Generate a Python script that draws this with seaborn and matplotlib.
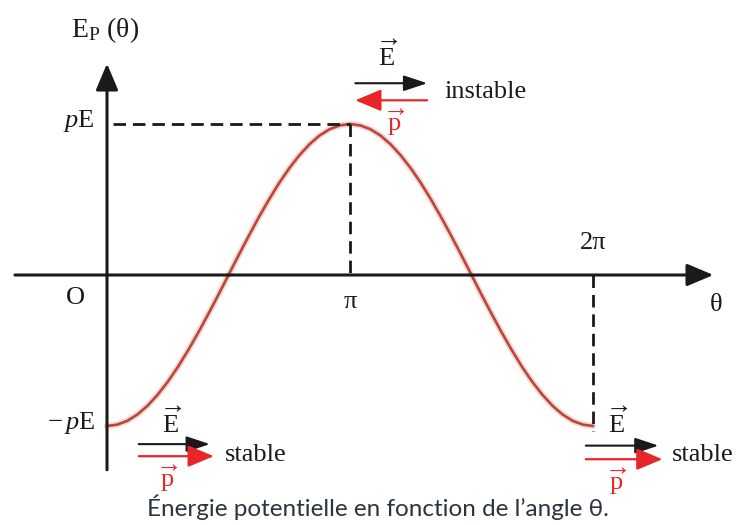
import numpy as np
import pandas as pd
import matplotlib
matplotlib.use("Agg")
import matplotlib.pyplot as plt
import seaborn as sns

# Potential energy of a dipole in a uniform field, in units of pE, sampled every 7.5°
theta_deg = [0, 7.5, 15, 22.5, 30, 37.5, 45, 52.5, 60, 67.5, 75, 82.5, 90,
             97.5, 105, 112.5, 120, 127.5, 135, 142.5, 150, 157.5, 165, 172.5, 180,
             187.5, 195, 202.5, 210, 217.5, 225, 232.5, 240, 247.5, 255, 262.5, 270,
             277.5, 285, 292.5, 300, 307.5, 315, 322.5, 330, 337.5, 345, 352.5, 360]
ep_values = [-1.000, -0.991, -0.966, -0.924, -0.866, -0.793, -0.707, -0.609, -0.500,
             -0.383, -0.259, -0.131, 0.000, 0.131, 0.259, 0.383, 0.500, 0.609, 0.707,
             0.793, 0.866, 0.924, 0.966, 0.991, 1.000, 0.991, 0.966, 0.924, 0.866,
             0.793, 0.707, 0.609, 0.500, 0.383, 0.259, 0.131, 0.000, -0.131, -0.259,
             -0.383, -0.500, -0.609, -0.707, -0.793, -0.866, -0.924, -0.966, -0.991, -1.000]

y_tick_values = [1.0, -1.0]
y_tick_labels = [r"$\mathit{p}\mathrm{E}$", r"$-\,\mathit{p}\mathrm{E}$"]
x_tick_values = [np.pi, 2 * np.pi]
x_tick_labels = ["π", "2π"]

df = pd.DataFrame({"theta": np.deg2rad(theta_deg), "Ep": ep_values})

sns.set_theme(style="white")
plt.rcParams["font.family"] = ["Liberation Serif", "DejaVu Serif"]
plt.rcParams["mathtext.fontset"] = "custom"
plt.rcParams["mathtext.rm"] = "Liberation Serif"
plt.rcParams["mathtext.it"] = "Liberation Serif:italic"

fig = plt.figure(figsize=(7.42, 5.25), dpi=100)
ax = fig.add_axes([0, 0, 1, 1])
SX, SY = 77.35, 151.0           # pixels per radian, pixels per pE

BLACK = "#1a1a1a"
RED = "#e8262a"
CURVE = "#b9473c"

# the curve, with a soft halo
ax.plot(df["theta"], df["Ep"], color="#f0c0b4", lw=4.5, alpha=0.6, solid_capstyle="round")
sns.lineplot(data=df, x="theta", y="Ep", ax=ax, color=CURVE, lw=1.9, sort=False)

ax.set_xlim(-107 / SX, 635 / SX)
ax.set_ylim(-250 / SY, 275 / SY)
ax.axis("off")

# axes with arrowheads
ax.annotate("", xy=(7.84, 0), xytext=(-1.19, 0),
            arrowprops=dict(arrowstyle="-|>,head_length=0.9,head_width=0.38",
                            color=BLACK, lw=2.2, shrinkA=0, shrinkB=0, mutation_scale=18))
ax.annotate("", xy=(0, 1.40), xytext=(0, -1.29),
            arrowprops=dict(arrowstyle="-|>,head_length=0.9,head_width=0.38",
                            color=BLACK, lw=2.2, shrinkA=0, shrinkB=0, mutation_scale=18))

# guide lines
dash = (0, (4.5, 2.5))
ax.plot([0.08, np.pi], [1.0, 1.0], color=BLACK, lw=2, linestyle=dash)
ax.plot([np.pi, np.pi], [1.0, 0.0], color=BLACK, lw=2, linestyle=dash)
ax.plot([2 * np.pi, 2 * np.pi], [0.0, -1.03], color=BLACK, lw=2, linestyle=dash)

FS = 19

# axis labels
ax.text(-0.47, 1.62, r"$\mathrm{E}_{\mathrm{P}}$ (θ)", fontsize=20, ha="left", va="center", color=BLACK)
ax.text(7.87, -0.20, "θ", fontsize=FS, ha="center", va="center", color=BLACK)
ax.text(-0.41, -0.15, "O", fontsize=FS, ha="center", va="center", color=BLACK)

for val, lab in zip(y_tick_values, y_tick_labels):
    ax.text(-0.16, val - 0.02, lab, fontsize=FS, ha="right", va="baseline", color=BLACK)
ax.text(x_tick_values[0], -0.18, x_tick_labels[0], fontsize=FS, ha="center", va="center", color=BLACK)
ax.text(x_tick_values[1], 0.21, x_tick_labels[1], fontsize=FS, ha="center", va="center", color=BLACK)


def field_pair(x0, x1, yE, yp, p_reverse, label, lx, ly, ex, ey, px_, py_):
    ax.annotate("", xy=(x1, yE), xytext=(x0, yE),
                arrowprops=dict(arrowstyle="-|>,head_length=0.9,head_width=0.3",
                                color=BLACK, lw=1.5, shrinkA=0, shrinkB=0, mutation_scale=16))
    if p_reverse:
        tail, tip = x1, x0
    else:
        tail, tip = x0, x1 + 0.05
    ax.annotate("", xy=(tip, yp), xytext=(tail, yp),
                arrowprops=dict(arrowstyle="-|>,head_length=1.0,head_width=0.42",
                                color=RED, lw=1.6, shrinkA=0, shrinkB=0, mutation_scale=16))
    ax.text(ex, ey, r"$\overrightarrow{\mathrm{E}}$", fontsize=FS, ha="center", va="center", color=BLACK)
    ax.text(px_, py_, r"$\overrightarrow{\mathrm{p}}$", fontsize=FS, ha="center", va="center", color=RED)
    ax.text(lx, ly, label, fontsize=FS, ha="left", va="center", color=BLACK)


# unstable equilibrium at θ = π
field_pair(3.21, 4.14, 1.27, 1.157, True, "instable", 4.36, 1.215, 3.63, 1.45, 3.73, 1.01)
# stable equilibrium at θ = 0
field_pair(0.41, 1.33, -1.12, -1.20, False, "stable", 1.52, -1.19, 0.84, -0.98, 0.80, -1.35)
# stable equilibrium at θ = 2π
field_pair(6.19, 7.13, -1.13, -1.22, False, "stable", 7.30, -1.19, 6.60, -0.98, 6.60, -1.37)

# caption
fig.text(0.51, 0.034, "Énergie potentielle en fonction de l’angle θ.", fontsize=17.5,
         ha="center", va="center", color="#2b3440", family=["Lato", "DejaVu Sans"])

fig.savefig("out.png", dpi=100)
